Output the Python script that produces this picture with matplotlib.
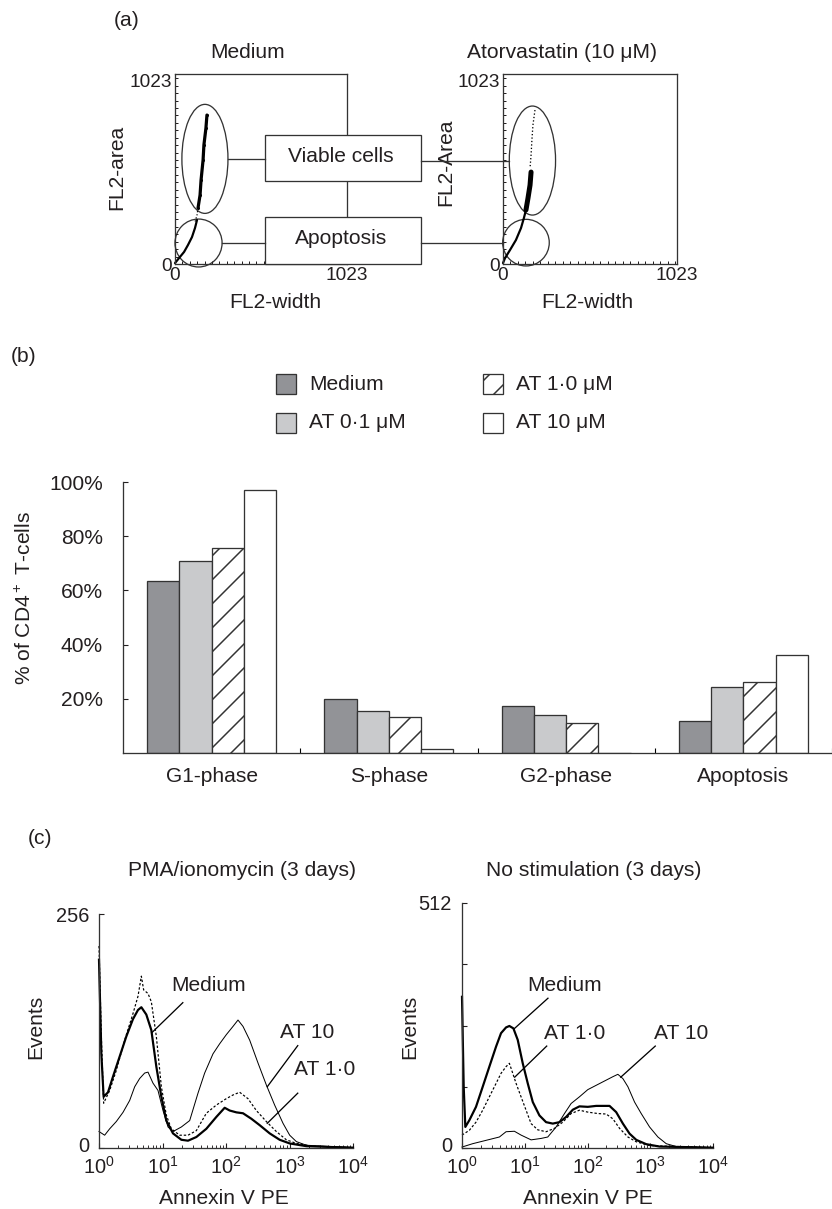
import numpy as np
import matplotlib
matplotlib.use("Agg")
import matplotlib.pyplot as plt
from matplotlib.patches import Ellipse, Rectangle
from matplotlib.ticker import MultipleLocator, LogLocator, NullFormatter
from matplotlib.transforms import ScaledTranslation

plt.rcParams['font.family'] = ['Liberation Sans', 'DejaVu Sans']
plt.rcParams['mathtext.fontset'] = 'custom'
plt.rcParams['mathtext.rm'] = 'Liberation Sans'
plt.rcParams['mathtext.default'] = 'regular'
plt.rcParams['hatch.linewidth'] = 1.5

INK = '#231f20'
EDGE = '#333333'
FS = 21

# ---------------- (a) FL2 area / width, channels 0-1023 ----------------
med_viable_w = [137, 149, 155, 167, 172, 184, 190]
med_viable_a = [302, 371, 452, 560, 641, 732, 802]
med_tail_w = [137, 131, 119]
med_tail_a = [302, 264, 226]
med_apop_w = [0, 24, 54, 77, 101, 119, 131]
med_apop_a = [5, 32, 65, 102, 145, 194, 237]

ator_sparse_w = [188, 176, 170, 165, 159]
ator_sparse_a = [829, 748, 668, 587, 517]
ator_dense_w = [165, 159, 147, 135]
ator_dense_a = [495, 425, 355, 291]
ator_apop_w = [135, 123, 106, 76, 41, 12, 0]
ator_apop_a = [291, 248, 194, 129, 75, 32, 5]

# gates: centre width, centre area, gate width, gate height
med_gates = [(178, 566, 274, 587), (140, 113, 280, 258)]
ator_gates = [(173, 557, 272, 587), (135, 115, 274, 251)]
gate_names = ['Viable cells', 'Apoptosis']

# ---------------- (b) cell cycle ----------------
phases = ['G1-phase', 'S-phase', 'G2-phase', 'Apoptosis']
treatments = ['Medium', 'AT 0·1 μM', 'AT 1·0 μM', 'AT 10 μM']
pct_medium = [63.5, 20.0, 17.3, 11.8]
pct_at01 = [70.8, 15.5, 14.0, 24.4]
pct_at1 = [75.6, 13.3, 11.1, 26.2]
pct_at10 = [97.0, 1.5, 0.0, 36.2]
bar_face = ['#929397', '#c9cacc', 'white', 'white']
bar_hatch = [None, None, '/', None]

# ---------------- (c) annexin V histograms (x in decades) ----------------
pma_med_x = [0.0, 0.037, 0.073, 0.142, 0.220, 0.325, 0.430, 0.535, 0.614, 0.667, 0.745,
             0.824, 0.903, 0.982, 1.060, 1.165, 1.297, 1.402, 1.533, 1.690, 1.848, 1.979,
             2.058, 2.163, 2.268, 2.399, 2.530, 2.688, 2.845, 3.003, 3.265, 3.685, 4.0]
pma_med_y = [206, 103, 56, 61, 78, 100, 122, 141, 151, 154, 146,
             129, 89, 56, 30, 16, 9, 8, 12, 21, 34, 44,
             41, 39, 38, 32, 25, 16, 9, 5, 2, 1, 0.4]
pma_at1_x = [0.0, 0.037, 0.073, 0.168, 0.273, 0.404, 0.535, 0.614, 0.667, 0.703, 0.772,
             0.824, 0.903, 0.982, 1.060, 1.139, 1.270, 1.402, 1.533, 1.690, 1.848, 2.005,
             2.110, 2.215, 2.346, 2.478, 2.635, 2.793, 2.950, 3.108, 3.370, 4.0]
pma_at1_y = [221, 122, 49, 63, 85, 118, 147, 166, 188, 173, 169,
             160, 122, 67, 36, 21, 14, 14, 19, 38, 47, 54,
             58, 61, 54, 41, 29, 18, 9, 5, 2, 0.4]
pma_at10_x = [0.0, 0.089, 0.168, 0.273, 0.378, 0.483, 0.562, 0.640, 0.719, 0.772, 0.850,
              0.929, 1.008, 1.087, 1.165, 1.297, 1.428, 1.559, 1.664, 1.795, 1.900, 2.005,
              2.110, 2.189, 2.268, 2.373, 2.504, 2.635, 2.766, 2.898, 3.003, 3.108, 3.265, 4.0]
pma_at10_y = [18, 14, 21, 29, 39, 52, 67, 76, 82, 83, 71,
              63, 41, 23, 18, 23, 30, 60, 82, 103, 114, 124,
              133, 140, 133, 118, 93, 69, 47, 27, 14, 7, 3, 0.4]

nost_med_x = [0.0, 0.027, 0.053, 0.117, 0.223, 0.330, 0.436, 0.543, 0.622, 0.702, 0.755,
              0.819, 0.888, 0.968, 1.048, 1.128, 1.234, 1.340, 1.447, 1.553, 1.660, 1.766,
              1.872, 2.005, 2.138, 2.351, 2.457, 2.564, 2.670, 2.777, 2.936, 3.149, 4.0]
nost_med_y = [316, 128, 44, 58, 86, 128, 170, 212, 240, 252, 255,
              250, 226, 177, 135, 96, 68, 54, 51, 54, 65, 80,
              87, 86, 88, 88, 75, 51, 30, 17, 8, 3, 0.7]
nost_at1_x = [0.0, 0.117, 0.223, 0.330, 0.436, 0.543, 0.622, 0.702, 0.755, 0.809, 0.862,
              0.941, 1.021, 1.101, 1.207, 1.340, 1.473, 1.606, 1.739, 1.872, 2.005, 2.165,
              2.298, 2.404, 2.511, 2.644, 2.777, 2.989, 4.0]
nost_at1_y = [27, 37, 54, 79, 107, 135, 156, 170, 177, 156, 135,
              107, 79, 51, 38, 34, 41, 54, 72, 79, 75, 72,
              71, 61, 41, 23, 13, 5, 0.7]
nost_at10_x = [0.0, 0.170, 0.383, 0.596, 0.702, 0.835, 0.941, 1.101, 1.261, 1.367, 1.500,
               1.633, 1.739, 1.872, 2.005, 2.138, 2.271, 2.404, 2.484, 2.564, 2.644, 2.750,
               2.856, 2.989, 3.122, 3.255, 3.415, 4.0]
nost_at10_y = [2, 9, 16, 23, 34, 35, 27, 17, 20, 23, 44,
               72, 93, 107, 122, 131, 140, 149, 154, 145, 128, 96,
               72, 44, 23, 9, 3, 0.7]

# curve labels: text (decade, count), leader line start/end
pma_labels = ['Medium', 'AT 10', 'AT 1·0']
pma_label_xy = [(1.72, 178), (3.28, 126), (3.56, 86)]
pma_leaders = [((1.32, 159), (0.83, 126)), ((3.13, 112), (2.65, 67)), ((3.13, 60), (2.65, 27))]
nost_labels = ['Medium', 'AT 1·0', 'AT 10']
nost_label_xy = [(1.64, 339), (1.80, 240), (3.49, 240)]
nost_leaders = [((1.37, 313), (0.83, 249)), ((1.35, 213), (0.84, 148)), ((3.08, 213), (2.53, 148))]

DPI = 72
W, H = 832, 1209
fig = plt.figure(figsize=(W / DPI, H / DPI), dpi=DPI)


def place(x0, y0, x1, y1, **kw):
    return fig.add_axes([x0 / W, 1 - y1 / H, (x1 - x0) / W, (y1 - y0) / H], **kw)


def ftext(x, y, s, **kw):
    kw.setdefault('ha', 'center')
    kw.setdefault('va', 'center')
    kw.setdefault('fontsize', FS)
    kw.setdefault('color', INK)
    fig.text(x / W, 1 - y / H, s, **kw)


# ---------------- panel (a) ----------------
def flow_axes(ax):
    ax.set_xlim(0, 1023)
    ax.set_ylim(0, 1023)
    for s in ax.spines.values():
        s.set_linewidth(1.3)
        s.set_color(EDGE)
    ax.set_xticks([0, 1023])
    ax.set_yticks([0, 1023])
    ax.xaxis.set_minor_locator(MultipleLocator(44))
    ax.yaxis.set_minor_locator(MultipleLocator(40))
    ax.tick_params(which='both', direction='in', length=3, width=1, colors=INK,
                   labelsize=19, pad=3)
    ax.get_yticklabels()[1].set_va('top')


ax_med = place(175, 74, 347, 264)
ax_ator = place(503, 74, 677, 264)
flow_axes(ax_med)
flow_axes(ax_ator)

ax_med.plot(med_viable_w, med_viable_a, color='k', lw=3.2, solid_capstyle='round')
ax_med.plot(med_viable_w, med_viable_a, '.', color='k', ms=4)
ax_med.plot(med_tail_w, med_tail_a, ':', color='k', lw=1.2)
ax_med.plot(med_apop_w, med_apop_a, color='k', lw=2.2, solid_capstyle='round', clip_on=False)

ax_ator.plot(ator_sparse_w, ator_sparse_a, ':', color='k', lw=1.3)
ax_ator.plot(ator_dense_w, ator_dense_a, color='k', lw=5, solid_capstyle='round')
ax_ator.plot(ator_apop_w, ator_apop_a, color='k', lw=2.2, solid_capstyle='round', clip_on=False)

for ax, gates in [(ax_med, med_gates), (ax_ator, ator_gates)]:
    for cx, cy, gw, gh in gates:
        ax.add_patch(Ellipse((cx, cy), gw, gh, fill=False, ec=EDGE, lw=1.3, clip_on=False))

ov = fig.add_axes([0, 0, 1, 1], zorder=10)
ov.set_xlim(0, W)
ov.set_ylim(H, 0)
ov.axis('off')
ov.patch.set_alpha(0)

box_left, box_right = 265, 421
box_rows = [(135, 181), (217, 264)]
to_ov = ov.transData.inverted()
for i, (top, bot) in enumerate(box_rows):
    ov.add_patch(Rectangle((box_left, top), box_right - box_left, bot - top,
                           fc='white', ec=EDGE, lw=1.3))
    ov.text((box_left + box_right) / 2 - 2, (top + bot) / 2 - 2, gate_names[i],
            ha='center', va='center', fontsize=FS, color=INK)
    cx, cy, gw, gh = med_gates[i]
    px, py = to_ov.transform(ax_med.transData.transform((cx + gw / 2, cy)))
    ov.plot([px, box_left], [py, py], color=EDGE, lw=1.3)
    cx, cy, gw, gh = ator_gates[i]
    px, py = to_ov.transform(ax_ator.transData.transform((cx - gw / 2, cy)))
    ov.plot([box_right, px], [py, py], color=EDGE, lw=1.3)

ftext(127, 21, '(a)')
ftext(248, 53, 'Medium')
ftext(562, 53, 'Atorvastatin (10 μM)')
ftext(117, 167, 'FL2-area', rotation=90)
ftext(446, 162, 'FL2-Area', rotation=90)
ftext(275, 303, 'FL2-width')
ftext(587, 303, 'FL2-width')

# ---------------- panel (b) ----------------
axb = place(123, 482, 832, 753)
xpos = np.arange(len(phases))
bw = 0.182
series = [pct_medium, pct_at01, pct_at1, pct_at10]
for k, vals in enumerate(series):
    axb.bar(xpos + (k - 1.5) * bw, vals, bw, color=bar_face[k], edgecolor=EDGE,
            lw=1.3, hatch=bar_hatch[k], label=treatments[k])
axb.set_xlim(-0.5, 3.5)
axb.set_ylim(0, 100)
axb.spines[['top', 'right']].set_visible(False)
axb.spines[['left', 'bottom']].set_linewidth(1.3)
axb.spines[['left', 'bottom']].set_color(EDGE)
axb.set_yticks([20, 40, 60, 80, 100])
axb.set_yticklabels([f'{v}%' for v in [20, 40, 60, 80, 100]])
axb.set_xticks(xpos + 0.5)
axb.set_xticklabels([])
axb.set_xticks(xpos, minor=True)
axb.set_xticklabels(phases, minor=True)
axb.tick_params(axis='y', direction='in', length=5, width=1.1, pad=20, labelsize=FS, colors=INK)
axb.tick_params(axis='x', which='major', direction='in', length=5, width=1.1)
axb.tick_params(axis='x', which='minor', length=0, pad=14, labelsize=FS, labelcolor=INK)

# legend (2 x 2)
leg_cols = [276, 483]
leg_rows = [374, 413]
for k, name in enumerate(treatments):
    lx = leg_cols[k // 2]
    ly = leg_rows[k % 2]
    ov.add_patch(Rectangle((lx, ly), 20, 20, fc=bar_face[k], ec=EDGE, lw=1.3,
                           hatch=bar_hatch[k]))
    ov.text(lx + 33, ly + 10, name, ha='left', va='center', fontsize=FS, color=INK)

ftext(24, 356, '(b)')
ftext(25, 598, '% of CD4$^+$ T-cells', rotation=90)

# ---------------- panel (c) ----------------
def hist_axes(ax, ymax, yticks):
    ax.set_xscale('log')
    ax.set_xlim(1, 1e4)
    ax.set_ylim(0, ymax)
    ax.spines[['top', 'right']].set_visible(False)
    ax.spines[['left', 'bottom']].set_linewidth(1.3)
    ax.spines[['left', 'bottom']].set_color(EDGE)
    ax.set_yticks(yticks)
    ax.set_yticklabels([str(v) if v in (0, ymax) else '' for v in yticks])
    ax.xaxis.set_major_locator(LogLocator(base=10, numticks=10))
    ax.xaxis.set_minor_locator(LogLocator(base=10, subs=np.arange(2, 10), numticks=10))
    ax.xaxis.set_minor_formatter(NullFormatter())
    ax.tick_params(which='major', direction='in', length=5, width=1.1, labelsize=20,
                   colors=INK)
    ax.tick_params(axis='y', pad=10)
    ax.tick_params(axis='x', pad=8)
    ax.tick_params(axis='x', which='minor', direction='in', length=3, width=0.9, colors=INK)
    zero = ax.get_yticklabels()[0]
    zero.set_transform(zero.get_transform() + ScaledTranslation(0, 3 / DPI, fig.dpi_scale_trans))


def draw_curves(ax, curves, labels, label_xy, leaders):
    for xs, ys, style in curves:
        ax.plot(10 ** np.asarray(xs), ys, clip_on=False, color='k', **style)
    for name, (tx, ty), ((x0, y0), (x1, y1)) in zip(labels, label_xy, leaders):
        ax.text(10 ** tx, ty, name, ha='center', va='center', fontsize=FS, color=INK)
        ax.plot([10 ** x0, 10 ** x1], [y0, y1], color='k', lw=1.3, clip_on=False)


thick = dict(lw=2.2)
thin = dict(lw=1.0)
dotted = dict(lw=1.2, ls=(0, (2, 1.6)))

axl = place(99, 914, 353, 1148)
hist_axes(axl, 256, [0, 256])
draw_curves(axl, [(pma_at10_x, pma_at10_y, thin), (pma_at1_x, pma_at1_y, dotted),
                  (pma_med_x, pma_med_y, thick)], pma_labels, pma_label_xy, pma_leaders)

axr = place(462, 903, 713, 1148)
hist_axes(axr, 512, [0, 128, 256, 384, 512])
draw_curves(axr, [(nost_at10_x, nost_at10_y, thin), (nost_at1_x, nost_at1_y, dotted),
                  (nost_med_x, nost_med_y, thick)], nost_labels, nost_label_xy, nost_leaders)

ftext(40, 838, '(c)')
ftext(242, 870, 'PMA/ionomycin (3 days)')
ftext(594, 870, 'No stimulation (3 days)')
ftext(36, 1027, 'Events', rotation=90)
ftext(410, 1027, 'Events', rotation=90)
ftext(224, 1198, 'Annexin V PE')
ftext(588, 1198, 'Annexin V PE')

fig.savefig('out.png', dpi=DPI, facecolor='white')
